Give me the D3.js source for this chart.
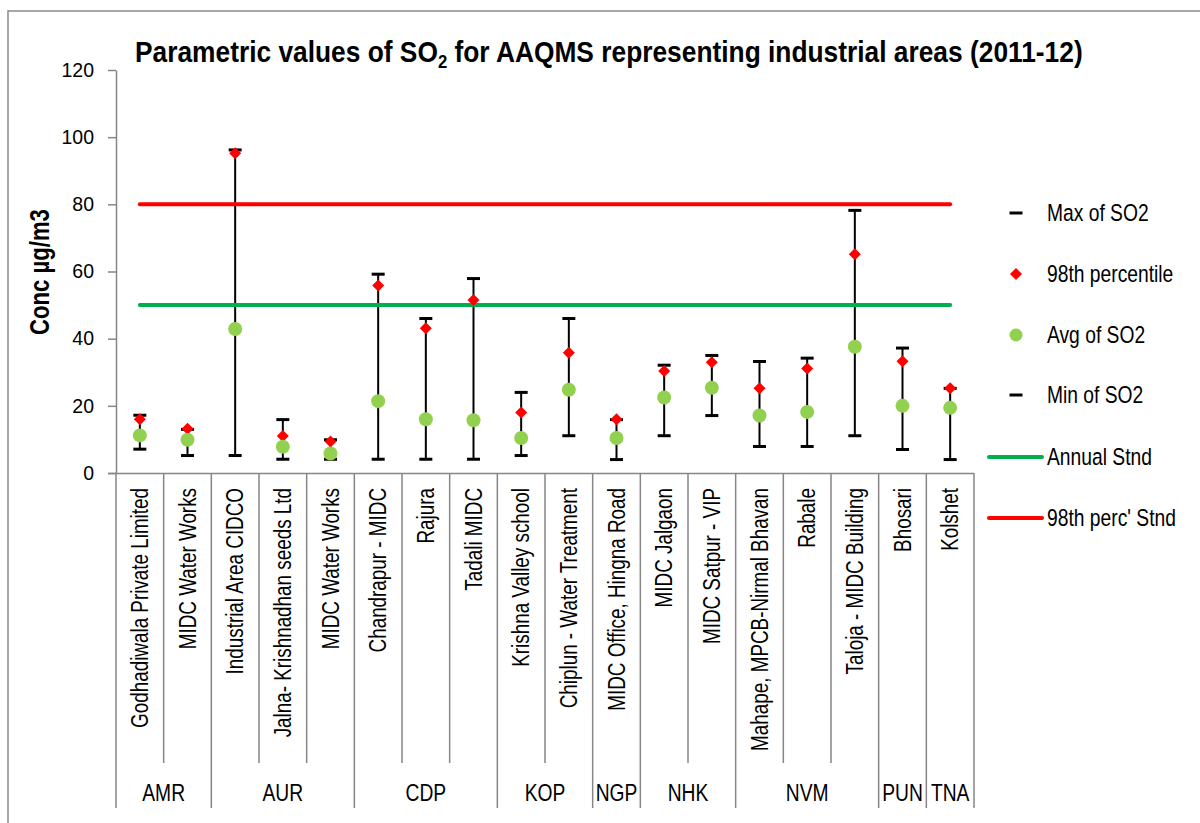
<!DOCTYPE html>
<html>
<head>
<meta charset="utf-8">
<script src="https://cdn.jsdelivr.net/npm/d3@7"></script>
<style>
  html, body { margin: 0; padding: 0; background: #fff; }
  svg { display: block; }
  text { font-family: "Liberation Sans", Arial, sans-serif; }
</style>
</head>
<body>
<svg id="chart" width="1200" height="823"></svg>
<script>
// ---- data ----
const stations = ["Godhadiwala Private Limited", "MIDC Water Works", "Industrial Area CIDCO",
  "Jalna- Krishnadhan seeds Ltd", "MIDC Water Works", "Chandrapur - MIDC", "Rajura", "Tadali MIDC",
  "Krishna Valley school", "Chiplun - Water Treatment", "MIDC Office, Hingna Road", "MIDC Jalgaon",
  "MIDC Satpur - VIP", "Mahape, MPCB-Nirmal Bhavan", "Rabale", "Taloja - MIDC Building", "Bhosari", "Kolshet"];
const regions = ["AMR","AMR","AUR","AUR","AUR","CDP","CDP","CDP","KOP","KOP","NGP","NHK","NHK","NVM","NVM","NVM","PUN","TNA"];
const maxSO2 = [17.2, 13.0, 96.2, 15.9, 9.9, 59.2, 46.0, 57.9, 24.0, 46.0, 15.9, 32.1, 35.0, 33.2, 34.2, 78.2, 37.2, 25.2];
const p98SO2 = [16.0, 13.2, 95.2, 11.0, 9.4, 55.8, 43.1, 51.5, 18.0, 35.8, 16.0, 30.4, 33.0, 25.2, 31.1, 65.1, 33.3, 25.2];
const avgSO2 = [11.2, 9.9, 42.9, 7.8, 5.8, 21.4, 16.0, 15.7, 10.4, 24.8, 10.4, 22.5, 25.4, 17.1, 18.2, 37.6, 20.0, 19.4];
const minSO2 = [7.1, 5.2, 5.2, 4.1, 4.1, 4.1, 4.1, 4.1, 5.2, 11.1, 4.0, 11.1, 17.1, 7.9, 7.9, 11.1, 7.0, 4.0];
const annualStnd = 50;
const perc98Stnd = 80;
const yTicks = [0, 20, 40, 60, 80, 100, 120];
const legendLabels = ["Max of SO2", "98th percentile", "Avg of SO2", "Min of SO2", "Annual Stnd", "98th perc' Stnd"];

// ---- layout ----
const svg = d3.select("#chart");
const plotL = 116, plotR = 974, plotT = 70, plotB = 473;
const AXIS = "#868686";
const RED = "#FF0000", GREEN_LINE = "#00B050", GREEN_DOT = "#92D050";
const NARROW = 0.82; // emulate a narrow face by horizontally compressing Liberation Sans

const idx = d3.range(stations.length);
const x = d3.scaleBand().domain(idx).range([plotL, plotR]).padding(0);
const y = d3.scaleLinear().domain([0, 120]).range([plotB, plotT]);
const cx = i => x(i) + x.bandwidth() / 2;

// outer border
svg.append("path").attr("d", "M8,823 L8,11 L1200,11").attr("fill", "none")
  .attr("stroke", "#8a8a8a").attr("stroke-width", 1.5);

// title
const title = svg.append("text").attr("x", 0).attr("y", 0)
  .attr("font-size", 30).attr("font-weight", "bold").attr("fill", "#000");
title.append("tspan").text("Parametric values of SO");
title.append("tspan").attr("font-size", 19).attr("dy", 6).text("2");
title.append("tspan").attr("dy", -6).text(" for AAQMS representing industrial areas (2011-12)");
{
  const w = title.node().getComputedTextLength();
  title.attr("transform", `translate(135,62) scale(${948 / w},1)`);
}

// y axis
const yAxis = svg.append("g").attr("transform", `translate(${plotL},0)`)
  .call(d3.axisLeft(y).tickValues(yTicks).tickSize(8).tickPadding(14).tickSizeOuter(0));
yAxis.select(".domain").attr("stroke", AXIS).attr("stroke-width", 1.5);
yAxis.selectAll(".tick line").attr("stroke", AXIS).attr("stroke-width", 1.5);
yAxis.selectAll(".tick text").attr("font-family", "'Liberation Sans', Arial, sans-serif")
  .attr("font-size", 19.5).attr("fill", "#000");

// y title
svg.append("text")
  .attr("transform", `translate(49,272) rotate(-90) scale(${NARROW},1)`)
  .attr("text-anchor", "middle").attr("font-size", 27).attr("font-weight", "bold")
  .attr("fill", "#000").text("Conc µg/m3");

// x axis (station labels)
const xAxis = svg.append("g").attr("transform", `translate(0,${plotB})`)
  .call(d3.axisBottom(x).tickSize(0).tickSizeOuter(0).tickFormat(i => stations[i]));
xAxis.select(".domain").attr("stroke", AXIS).attr("stroke-width", 1.5)
  .attr("d", `M${plotL - 8},0.5H${plotR}`);
xAxis.selectAll(".tick text")
  .attr("font-family", "'Liberation Sans', Arial, sans-serif")
  .attr("font-size", 23).attr("fill", "#000")
  .attr("transform", `translate(0,15) rotate(-90) scale(${NARROW},1)`)
  .attr("x", 0).attr("y", 0).attr("dy", "0.36em")
  .attr("text-anchor", "end");

// separators
const bounds = d3.range(stations.length + 1);
svg.append("g").selectAll("line").data(bounds).join("line")
  .attr("x1", b => b < stations.length ? x(b) : plotR)
  .attr("x2", b => b < stations.length ? x(b) : plotR)
  .attr("y1", plotB)
  .attr("y2", b => (b === 0 || b === stations.length || regions[b] !== regions[b - 1]) ? 808 : 763)
  .attr("stroke", AXIS).attr("stroke-width", 1.5);

// region labels
const groups = [];
regions.forEach((r, i) => {
  if (!groups.length || groups[groups.length - 1].name !== r) groups.push({ name: r, start: i, end: i });
  else groups[groups.length - 1].end = i;
});
svg.append("g").selectAll("text").data(groups).join("text")
  .attr("transform", g => `translate(${(x(g.start) + x(g.end) + x.bandwidth()) / 2},801) scale(${NARROW},1)`)
  .attr("text-anchor", "middle").attr("font-size", 23.5).attr("fill", "#000")
  .text(g => g.name);

// high-low lines
const plot = svg.append("g");
plot.selectAll(".hl").data(idx).join("line").attr("class", "hl")
  .attr("x1", cx).attr("x2", cx)
  .attr("y1", i => y(maxSO2[i])).attr("y2", i => y(minSO2[i]))
  .attr("stroke", "#000").attr("stroke-width", 2);
// max / min dash markers
[maxSO2, minSO2].forEach(arr => {
  plot.append("g").selectAll("line").data(idx).join("line")
    .attr("x1", i => cx(i) - 6.5).attr("x2", i => cx(i) + 6.5)
    .attr("y1", i => y(arr[i])).attr("y2", i => y(arr[i]))
    .attr("stroke", "#000").attr("stroke-width", 3);
});

// standard lines
const stdLine = d3.line().x(d => cx(d.i)).y(d => y(d.v));
[[perc98Stnd, RED], [annualStnd, GREEN_LINE]].forEach(([v, c]) => {
  plot.append("path").datum(idx.map(i => ({ i, v })))
    .attr("d", stdLine).attr("fill", "none").attr("stroke", c).attr("stroke-width", 4)
    .attr("stroke-linecap", "round");
});

// 98th percentile diamonds
const diamond = d3.symbol().type(d3.symbolSquare).size(72);
plot.append("g").selectAll("path").data(idx).join("path")
  .attr("d", diamond())
  .attr("transform", i => `translate(${cx(i)},${y(p98SO2[i])}) rotate(45)`)
  .attr("fill", RED);
// avg circles
plot.append("g").selectAll("circle").data(idx).join("circle")
  .attr("cx", cx).attr("cy", i => y(avgSO2[i])).attr("r", 7)
  .attr("fill", GREEN_DOT);

// legend
const lx = 1016, ltx = 1047;
const ly = [213, 274, 335, 395, 457, 518];
const lg = svg.append("g");
lg.append("line").attr("x1", lx - 6.5).attr("x2", lx + 6.5).attr("y1", ly[0]).attr("y2", ly[0]).attr("stroke", "#000").attr("stroke-width", 3);
lg.append("path").attr("d", diamond()).attr("transform", `translate(${lx},${ly[1]}) rotate(45)`).attr("fill", RED);
lg.append("circle").attr("cx", lx).attr("cy", ly[2]).attr("r", 6.5).attr("fill", GREEN_DOT);
lg.append("line").attr("x1", lx - 6.5).attr("x2", lx + 6.5).attr("y1", ly[3]).attr("y2", ly[3]).attr("stroke", "#000").attr("stroke-width", 3);
lg.append("line").attr("x1", 989).attr("x2", 1042).attr("y1", ly[4]).attr("y2", ly[4]).attr("stroke", GREEN_LINE).attr("stroke-width", 4).attr("stroke-linecap", "round");
lg.append("line").attr("x1", 989).attr("x2", 1042).attr("y1", ly[5]).attr("y2", ly[5]).attr("stroke", RED).attr("stroke-width", 4).attr("stroke-linecap", "round");
lg.selectAll("text").data(legendLabels).join("text")
  .attr("transform", (d, k) => `translate(${ltx},${ly[k]}) scale(${NARROW},1)`)
  .attr("dy", "0.36em")
  .attr("font-size", 23.5).attr("fill", "#000").text(d => d);
</script>
</body>
</html>
